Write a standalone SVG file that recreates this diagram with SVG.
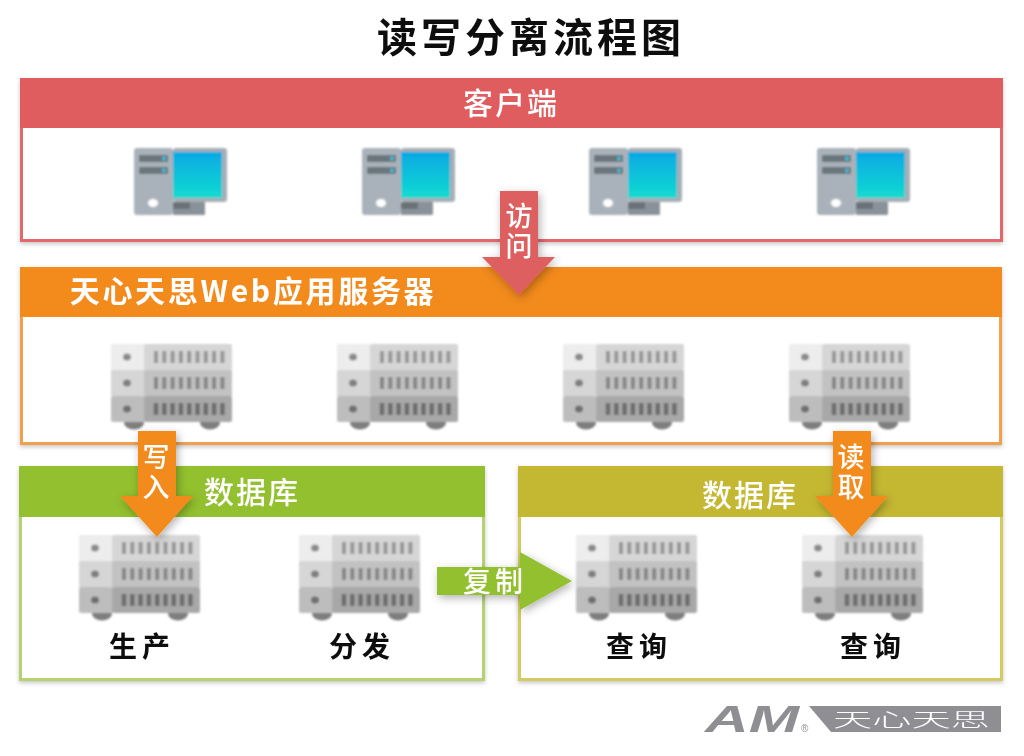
<svg xmlns="http://www.w3.org/2000/svg" width="1024" height="756" viewBox="0 0 1024 756">
<style>
text{font-family:"Noto Sans CJK SC","Liberation Sans",sans-serif;text-anchor:middle}
.h{font-size:30px;fill:#fff;font-weight:500;letter-spacing:2px}
.k{font-size:28px;fill:#111;font-weight:700;letter-spacing:5px}
.a{font-size:27px;fill:#fff;font-weight:500}
.v{writing-mode:vertical-rl;letter-spacing:3px}
.box{fill:#fff;stroke-width:3}
</style>
<defs>
<filter id="b" x="-5%" y="-5%" width="110%" height="110%"><feGaussianBlur stdDeviation="1"/></filter>
<filter id="t" x="-5%" y="-20%" width="110%" height="140%"><feGaussianBlur stdDeviation="0.45"/></filter>
<filter id="s" x="-5%" y="-5%" width="110%" height="115%"><feDropShadow dx="0" dy="2" stdDeviation="2" flood-color="#000" flood-opacity="0.22"/></filter>
<filter id="as" x="-30%" y="-20%" width="160%" height="140%"><feGaussianBlur stdDeviation="0.5" result="g"/><feDropShadow in="g" dx="2" dy="3" stdDeviation="4" flood-color="#000" flood-opacity="0.3"/></filter>
<linearGradient id="scr" x1="0" y1="0" x2="0" y2="1"><stop offset="0" stop-color="#05a9e4"/><stop offset="1" stop-color="#14dbd0"/></linearGradient>
<g id="pc">
<rect x="39" y="0" width="54" height="54" rx="3" fill="#a6aeb6"/>
<rect x="39" y="4" width="49" height="46" fill="url(#scr)"/>
<rect x="39" y="54" width="32" height="13" rx="1" fill="#8a9299"/>
<rect x="39" y="54" width="17" height="7" fill="#6a7278"/>
<rect x="0" y="0" width="39" height="67" rx="3" fill="#a9b2ba"/>
<rect x="5" y="7" width="29" height="7" rx="1" fill="#6b747b"/>
<rect x="5" y="19" width="29" height="7" rx="1" fill="#6b747b"/>
<circle cx="30" cy="10.500" r="2" fill="#35c2e0"/><circle cx="30" cy="22.500" r="2" fill="#35c2e0"/>
<ellipse cx="19" cy="55" rx="5" ry="4" fill="#fff"/>
</g>
<g id="sv">
<ellipse cx="23" cy="79" rx="10" ry="6.500" fill="#7e7e7e"/><ellipse cx="99" cy="79" rx="10" ry="6.500" fill="#7e7e7e"/>
<rect x="0" y="0" width="34" height="26" rx="2" fill="#ededed"/>
<rect x="33" y="0" width="88" height="26" rx="2" fill="#d6d6d6"/>
<rect x="0" y="26" width="34" height="26" fill="#d6d6d6"/>
<rect x="33" y="26" width="88" height="26" fill="#c2c2c2"/>
<rect x="0" y="52" width="34" height="26" rx="2" fill="#bdbdbd"/>
<rect x="33" y="52" width="88" height="26" rx="2" fill="#a8a8a8"/>
<ellipse cx="16" cy="13" rx="4" ry="3.500" fill="#8a8a8a"/><ellipse cx="16" cy="39" rx="4" ry="3.500" fill="#7e7e7e"/><ellipse cx="16" cy="65" rx="4" ry="3.500" fill="#6e6e6e"/>
<path d="M45 7v12M53.300 7v12M61.600 7v12M69.900 7v12M78.200 7v12M86.500 7v12M94.800 7v12M103.100 7v12M111.400 7v12" stroke="#969696" stroke-width="4"/>
<path d="M45 33v12M53.300 33v12M61.600 33v12M69.900 33v12M78.200 33v12M86.500 33v12M94.800 33v12M103.100 33v12M111.400 33v12" stroke="#858585" stroke-width="4"/>
<path d="M45 59v12M53.300 59v12M61.600 59v12M69.900 59v12M78.200 59v12M86.500 59v12M94.800 59v12M103.100 59v12M111.400 59v12" stroke="#6c6c6c" stroke-width="4.500"/>
</g>
</defs>
<rect width="1024" height="756" fill="#fff"/>
<text x="531" y="52" filter="url(#t)" style="font-size:40px;fill:#111;font-weight:700;letter-spacing:4px">读写分离流程图</text>

<g id="client" filter="url(#s)">
<rect class="box" x="21.500" y="79.500" width="980" height="161" stroke="#e4686b"/>
<rect x="20" y="78" width="983" height="50" fill="#df5c5f"/>
</g>
<text class="h" x="511" y="114" filter="url(#t)">客户端</text>
<g id="pcs" filter="url(#b)">
<use href="#pc" x="134" y="148"/><use href="#pc" x="362" y="148"/><use href="#pc" x="589" y="148"/><use href="#pc" x="817" y="148"/>
</g>

<g id="web" filter="url(#s)">
<rect class="box" x="21.500" y="268.500" width="979" height="175" stroke="#f2a04e"/>
<rect x="20" y="267" width="982" height="50" fill="#f28a1e"/>
</g>
<text class="h" x="253" y="302" filter="url(#t)" style="font-weight:700;letter-spacing:2.700px">天心天思Web应用服务器</text>
<g id="webservers" filter="url(#b)">
<use href="#sv" x="111" y="344"/><use href="#sv" x="337" y="344"/><use href="#sv" x="563" y="344"/><use href="#sv" x="789" y="344"/>
</g>

<g id="db1" filter="url(#s)">
<rect class="box" x="20.500" y="467.500" width="463" height="212" stroke="#b4d36f"/>
<rect x="19" y="466" width="466" height="51" fill="#93c02f"/>
</g>
<text class="h" x="252" y="503" filter="url(#t)">数据库</text>
<g id="db2" filter="url(#s)">
<rect class="box" x="519.500" y="467.500" width="482" height="212" stroke="#d3ca62"/>
<rect x="518" y="466" width="485" height="51" fill="#c4b832"/>
</g>
<text class="h" x="750" y="506" filter="url(#t)">数据库</text>
<g id="dbservers" filter="url(#b)">
<use href="#sv" x="79" y="535"/><use href="#sv" x="299" y="535"/><use href="#sv" x="576" y="535"/><use href="#sv" x="802" y="535"/>
</g>
<text class="k" x="142" y="657" filter="url(#t)">生产</text>
<text class="k" x="362" y="657" filter="url(#t)">分发</text>
<text class="k" x="639" y="657" filter="url(#t)">查询</text>
<text class="k" x="873" y="657" filter="url(#t)">查询</text>

<g id="connectors">
<path id="c1" filter="url(#as)" d="M500 191h38v66h17l-36 38-37-38h18z" fill="#de5f5f"/>
<path id="c2" filter="url(#as)" d="M138 431h38v65h17l-36 41-37-41h18z" fill="#f28a1e"/>
<path id="c3" filter="url(#as)" d="M833 431h38v65h17l-36 41-37-41h18z" fill="#f28a1e"/>
<path id="c4" filter="url(#as)" d="M437 567h83v-15l52 29-52 29v-15h-83z" fill="#93c02f"/>
</g>
<g filter="url(#t)">
<text class="a v" x="519" y="232">访问</text>
<text class="a v" x="156" y="473">写入</text>
<text class="a v" x="851" y="473">读取</text>
<text class="a" x="495" y="592" style="font-size:28px;letter-spacing:4px">复制</text>
</g>

<g id="logo" filter="url(#t)">
<text x="705" y="732" textLength="94" lengthAdjust="spacingAndGlyphs" style="font-family:'Liberation Sans',sans-serif;text-anchor:start;font-size:36px;font-weight:700;font-style:italic;fill:#8f8f93">AM</text>
<text x="801" y="732" style="font-family:'Liberation Sans',sans-serif;text-anchor:start;font-size:10px;fill:#8f8f93">®</text>
<path d="M809 706h192v26h-170z" fill="#8f8f93"/>
<text x="833" y="727" textLength="157" lengthAdjust="spacingAndGlyphs" style="text-anchor:start;font-size:19px;fill:#fff;font-weight:300">天心天思</text>
</g>
</svg>
